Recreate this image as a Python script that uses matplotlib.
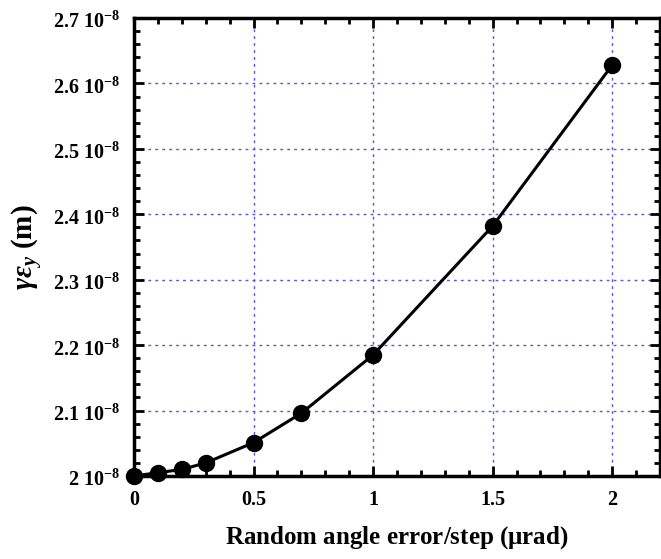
import numpy as np
import matplotlib
matplotlib.use('Agg')
import matplotlib.pyplot as plt
import matplotlib.transforms as mtransforms
from matplotlib.ticker import MultipleLocator, FuncFormatter

plt.rcParams['font.family'] = 'Liberation Serif'
plt.rcParams['font.weight'] = 'bold'
plt.rcParams['mathtext.fontset'] = 'custom'
plt.rcParams['mathtext.rm'] = 'Liberation Serif:bold'
plt.rcParams['mathtext.it'] = 'Liberation Serif:bold:italic'
plt.rcParams['mathtext.bf'] = 'Liberation Serif:bold'

# angle error per step (urad) vs emittance (m)
angle_err = [0, 0.1, 0.2, 0.3, 0.5, 0.7, 1.0, 1.5, 2.0]
emit_y = [2.000e-8, 2.005e-8, 2.010e-8, 2.020e-8, 2.051e-8, 2.096e-8, 2.185e-8, 2.382e-8, 2.628e-8]

fig = plt.figure(figsize=(6.61, 5.59), dpi=100)
ax = fig.add_axes([0.2027, 0.1485, 0.7958, 0.8193])

ax.plot(angle_err, emit_y, color='black', lw=2.2, marker='o', ms=11.5, zorder=3, clip_on=False)

ax.set_xlim(0, 2.2)
ax.set_ylim(2.0e-8, 2.7e-8)
ax.xaxis.set_major_locator(MultipleLocator(0.5))
ax.xaxis.set_minor_locator(MultipleLocator(0.1))
ax.yaxis.set_major_locator(MultipleLocator(0.1e-8))
ax.yaxis.set_minor_locator(MultipleLocator(0.02e-8))

def xfmt(v, pos):
    return '%g' % round(v, 3)

def yfmt(v, pos):
    return r'%g 10$^{-8}$' % round(v * 1e8, 3)

ax.xaxis.set_major_formatter(FuncFormatter(xfmt))
ax.yaxis.set_major_formatter(FuncFormatter(yfmt))

ax.grid(True, which='major', color='#5555e0', linestyle=(0, (2, 3)), lw=1)
ax.tick_params(which='both', direction='in', top=True, right=True, width=2)
ax.tick_params(axis='y', which='major', labelsize=14.5)
ax.tick_params(axis='x', which='major', labelsize=14.5)
ax.tick_params(which='major', length=7, pad=10)
ax.tick_params(which='minor', length=4)
for s in ax.spines.values():
    s.set_linewidth(2.5)

# nudge y tick labels down a little so the top one stays inside the figure
shift = mtransforms.ScaledTranslation(0, -1.5 / 72, fig.dpi_scale_trans)
for t in ax.yaxis.get_major_ticks():
    t.label1.set_transform(t.label1.get_transform() + shift)

ax.set_xlabel(r'Random angle error/step ($\mathrm{\mu}$rad)', fontsize=18, fontweight='bold', labelpad=10)
ax.set_ylabel(r'$\gamma\varepsilon_y$ (m)', fontsize=21, fontweight='bold', labelpad=6)

fig.savefig('out.png', dpi=100)
